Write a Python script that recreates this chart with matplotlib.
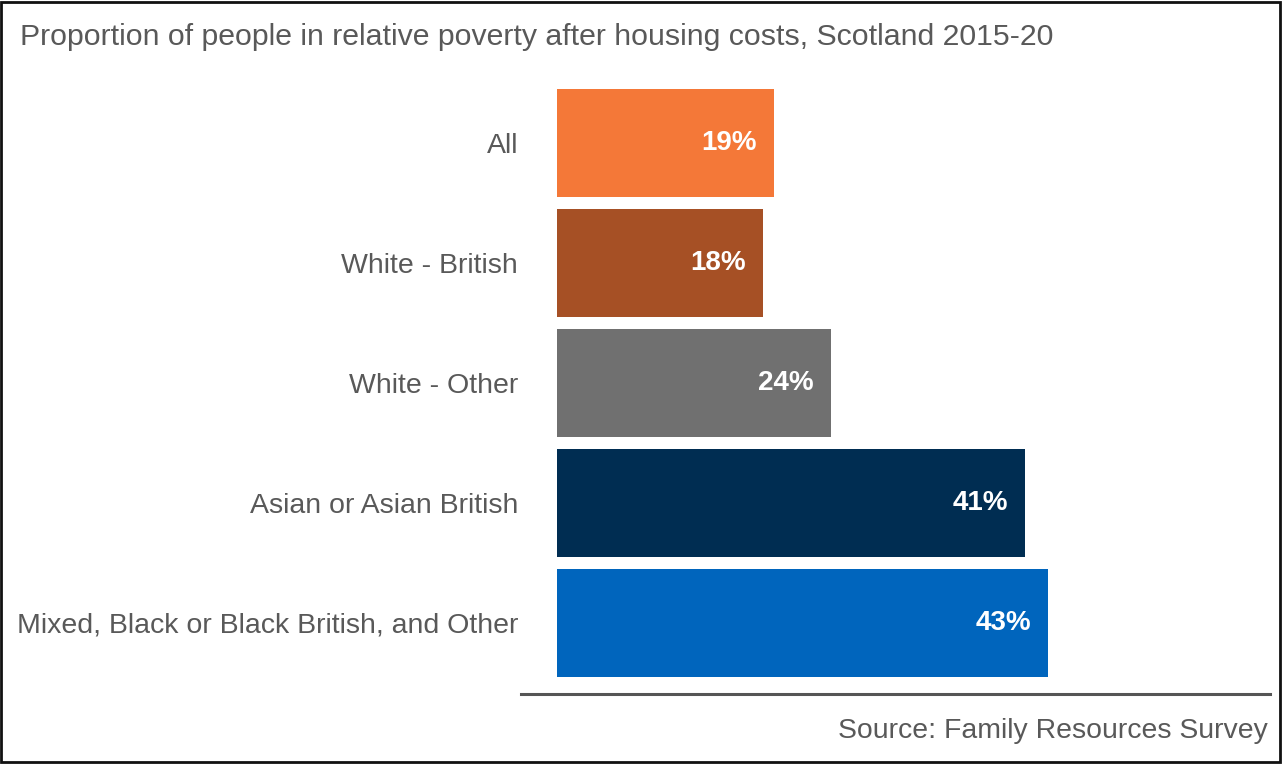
import matplotlib
matplotlib.use("Agg")
import matplotlib.pyplot as plt
from matplotlib.patches import Rectangle

# Relative poverty after housing costs by ethnic group, Scotland 2015-20
groups = ["All", "White - British", "White - Other", "Asian or Asian British",
          "Mixed, Black or Black British, and Other"]
poverty_pct = [19, 18, 24, 41, 43]
bar_colors = ["#F47838", "#A65025", "#707070", "#002D52", "#0065BD"]

plt.rcParams["font.family"] = ["Liberation Sans", "DejaVu Sans"]
text_grey = "#595959"

W, H = 1283, 764
fig = plt.figure(figsize=(W / 100, H / 100), dpi=100)

# axes box in pixel units: left 521, right 1270, top 80, bottom 694
ax = fig.add_axes([521 / W, 1 - 694 / H, (1270 - 521) / W, (694 - 80) / H])
px_per_pct = 11.42
ax.set_xlim(-(557 - 521) / px_per_pct, (1270 - 557) / px_per_pct)
ax.set_ylim(4.592, -0.525)

ypos = range(len(groups))
ax.barh(ypos, poverty_pct, height=0.9, color=bar_colors)
for y, v in zip(ypos, poverty_pct):
    ax.text(v - 1.5, y, f"{v}%", ha="right", va="center", color="white",
            fontsize=20, fontweight="bold")

ax.set_yticks(list(ypos))
ax.set_yticklabels(groups, fontsize=20.5, color=text_grey)
ax.tick_params(axis="y", length=0, pad=2)
ax.set_xticks([])
for side in ["top", "right", "left"]:
    ax.spines[side].set_visible(False)
ax.spines["bottom"].set_color("#555555")
ax.spines["bottom"].set_linewidth(2.2)

fig.text(20 / W, 1 - 37 / H, "Proportion of people in relative poverty after housing costs, Scotland 2015-20",
         ha="left", va="center", fontsize=21.8, color=text_grey)
fig.text(1268 / W, 1 - 731 / H, "Source: Family Resources Survey",
         ha="right", va="center", fontsize=20.4, color=text_grey)

# outer frame
fig.add_artist(Rectangle((0.001, 0.002), 0.997, 0.996, transform=fig.transFigure,
                         fill=False, edgecolor="#111111", linewidth=2))

fig.savefig("out.png", dpi=100)
